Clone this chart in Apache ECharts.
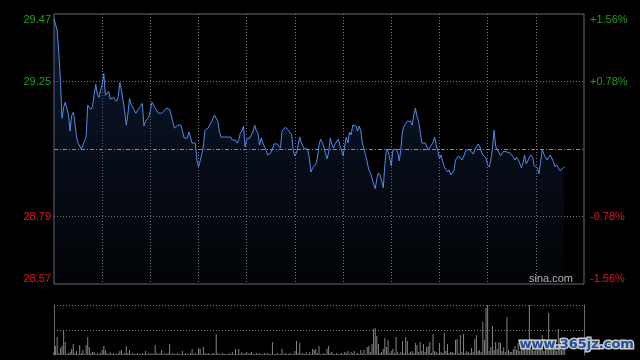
<!DOCTYPE html>
<html><head><meta charset="utf-8">
<script src="https://cdn.jsdelivr.net/npm/echarts@6/dist/echarts.min.js"></script>
<style>html,body{margin:0;padding:0;background:#000}#c{width:640px;height:360px}</style>
</head><body><div id="c"></div>
<script>
const prevClose = 29.02;
const pctMax = 1.56;
const pctStep = 0.78;
const prices = [
29.457,29.457,29.417,29.343,29.250,29.123,29.160,29.177,29.177,29.137,
29.080,29.133,29.143,29.110,29.060,29.040,29.040,29.020,29.017,29.047,
29.060,29.167,29.163,29.153,29.163,29.203,29.237,29.203,29.193,29.217,
29.237,29.273,29.200,29.197,29.213,29.187,29.187,29.193,29.193,29.180,
29.197,29.243,29.217,29.220,29.147,29.100,29.137,29.190,29.170,29.173,
29.150,29.140,29.150,29.153,29.163,29.173,29.097,29.113,29.120,29.127,
29.150,29.177,29.173,29.157,29.153,29.140,29.140,29.140,29.140,29.150,
29.157,29.157,29.153,29.133,29.110,29.090,29.093,29.100,29.100,29.100,
29.080,29.057,29.060,29.057,29.077,29.080,29.040,29.040,29.040,28.983,
28.960,28.980,29.003,29.030,29.083,29.083,29.090,29.100,29.110,29.123,
29.133,29.137,29.113,29.077,29.060,29.060,29.060,29.060,29.060,29.060,
29.060,29.050,29.047,29.050,29.040,29.050,29.073,29.080,29.097,29.027,
29.053,29.057,29.057,29.060,29.080,29.100,29.080,29.073,29.033,29.057,
29.040,29.040,29.017,29.000,28.997,29.007,29.020,29.037,29.037,29.037,
29.033,29.023,29.080,29.080,29.093,29.097,29.083,29.077,29.067,29.013,
28.997,29.007,29.033,29.060,29.040,29.037,29.020,29.020,29.020,28.987,
28.943,28.957,28.960,28.970,28.990,29.033,29.053,29.043,29.027,29.007,
28.987,29.010,29.057,29.037,29.023,29.037,29.043,29.053,29.033,29.017,
28.997,29.030,29.060,29.040,29.077,29.067,29.100,29.100,29.097,29.080,
29.097,29.083,29.040,29.020,29.000,28.977,28.950,28.940,28.937,28.903,
28.887,28.920,28.940,28.933,28.913,28.890,28.967,29.020,29.013,28.990,
28.963,29.017,29.017,29.020,29.010,28.980,29.023,29.080,29.097,29.103,
29.113,29.107,29.113,29.100,29.133,29.157,29.130,29.113,29.080,29.040,
29.040,29.040,29.030,29.017,29.020,29.033,29.043,29.060,29.033,29.013,
28.987,29.000,28.977,28.960,28.957,28.943,28.950,28.933,28.937,28.947,
28.983,28.983,28.997,28.993,28.983,28.993,29.010,29.017,29.017,29.017,
29.010,29.003,29.017,29.023,29.037,29.030,29.013,29.000,29.000,28.990,
28.967,28.960,28.983,29.023,29.083,29.030,29.017,29.010,28.997,29.000,
29.013,29.017,29.010,29.013,29.007,29.010,28.993,28.983,28.993,28.987,
28.973,28.957,28.973,29.000,28.970,28.980,28.993,29.000,28.993,28.963,
28.960,28.957,28.937,28.977,29.020,29.003,29.000,28.983,28.993,29.000,
28.997,28.977,28.960,28.967,28.957,28.947,28.943,28.957,28.960
];
const volumes = [
3,9,18,2,7,9,25,13,1,2,
3,6,11,2,4,1,10,2,5,1,
10,18,8,2,3,3,1,2,1,2,
5,9,5,2,1,3,1,2,1,1,
2,4,5,1,2,9,2,5,1,2,
1,1,2,1,1,2,1,4,1,2,
1,2,1,10,2,1,2,5,1,2,
1,2,11,1,2,1,1,2,1,1,
4,1,2,1,1,2,6,1,2,1,
7,6,1,8,2,1,2,1,1,2,
1,21,2,1,1,2,1,1,1,2,
1,3,1,6,1,6,1,3,1,2,
3,1,2,3,1,1,2,1,2,1,
1,2,1,2,1,1,13,1,1,2,
1,1,6,1,2,1,1,2,1,1,
4,14,2,12,1,2,1,3,1,3,
1,6,5,6,2,9,1,1,2,1,
6,9,2,3,1,1,2,1,1,2,
1,3,2,4,1,3,2,4,1,2,
1,5,2,5,1,8,9,3,11,26,
27,19,11,2,3,6,17,8,15,2,
4,6,2,18,3,1,3,14,2,18,
14,2,3,4,2,12,10,3,13,4,
11,3,8,9,13,2,21,4,3,2,
12,3,2,22,4,11,2,3,3,2,
15,16,2,20,3,21,2,4,3,2,
7,3,16,20,4,5,3,33,15,47,
50,4,8,29,5,13,6,13,12,4,
8,3,38,5,3,3,6,9,5,12,
4,8,6,10,5,7,50,6,9,4,
8,5,11,6,20,4,9,5,42,7,
5,10,6,4,26,8,5,9,6
];
// minute labels of the session (09:30-12:00, 13:01-16:00)
const times = [];
for (let i = 0; i <= 330; i++) {
  const m = i <= 150 ? 570 + i : 780 + (i - 150);
  times.push(String(Math.floor(m / 60)).padStart(2, '0') + ':' + String(m % 60).padStart(2, '0'));
}
const pct = prices.map(p => (p / prevClose - 1) * 100);
const green = '#1f9f1f', red = '#e01818';
const gridGray = '#7a7a7a';
const sgnColor = v => { const n = parseFloat(v); return n > 1e-9 ? green : red; };

const chart = echarts.init(document.getElementById('c'), null, {renderer: 'canvas'});
chart.setOption({
  animation: false,
  backgroundColor: '#000',
  grid: [
    {left: 54, right: 56, top: 14, height: 270, show: true, borderColor: '#6a6a6a', borderWidth: 1, backgroundColor: 'transparent'},
    {left: 54, right: 56, top: 305, height: 50}
  ],
  xAxis: [
    {type: 'category', gridIndex: 0, data: times, boundaryGap: false,
     axisLine: {show: false}, axisTick: {show: false}, axisLabel: {show: false},
     splitLine: {show: true, interval: (i) => i > 0 && i < 330 && i % 30 === 0,
       lineStyle: {color: gridGray, type: [1, 2], width: 1}}},
    {type: 'category', gridIndex: 1, data: times, boundaryGap: false,
     axisLine: {show: false}, axisTick: {show: false}, axisLabel: {show: false}, splitLine: {show: false}}
  ],
  yAxis: [
    {type: 'value', gridIndex: 0, min: -pctMax, max: pctMax, interval: pctStep, position: 'left',
     axisLine: {show: false}, axisTick: {show: false},
     axisLabel: {fontSize: 11, fontFamily: '"Liberation Sans", Arial, sans-serif', margin: 3,
       showMinLabel: true, showMaxLabel: true,
       verticalAlignMinLabel: 'bottom', verticalAlignMaxLabel: 'top',
       formatter: v => Math.abs(v) < 1e-9 ? '' : (prevClose * (1 + v / 100)).toFixed(2),
       color: sgnColor},
     splitLine: {show: true, lineStyle: {color: ['rgba(0,0,0,0)', gridGray, 'rgba(0,0,0,0)', gridGray, 'rgba(0,0,0,0)'], type: [1, 2], width: 1}}},
    {type: 'value', gridIndex: 0, min: -pctMax, max: pctMax, interval: pctStep, position: 'right',
     axisLine: {show: false}, axisTick: {show: false}, splitLine: {show: false},
     axisLabel: {fontSize: 11, fontFamily: '"Liberation Sans", Arial, sans-serif', margin: 6,
       showMinLabel: true, showMaxLabel: true,
       verticalAlignMinLabel: 'bottom', verticalAlignMaxLabel: 'top',
       formatter: v => Math.abs(v) < 1e-9 ? '' : (v > 0 ? '+' : '') + v.toFixed(2) + '%',
       color: sgnColor}},
    {type: 'value', gridIndex: 1, min: 0, max: 50, interval: 25, position: 'left',
     axisLine: {show: true, lineStyle: {color: '#6a6a6a', width: 1}}, axisTick: {show: false}, axisLabel: {show: false},
     splitLine: {show: true, showMinLine: false, lineStyle: {color: gridGray, type: [1, 2], width: 1}}},
    {type: 'value', gridIndex: 1, min: 0, max: 50, interval: 25, position: 'right',
     axisLine: {show: true, lineStyle: {color: '#6a6a6a', width: 1}}, axisTick: {show: false}, axisLabel: {show: false},
     splitLine: {show: false}}
  ],
  series: [
    {type: 'line', xAxisIndex: 0, yAxisIndex: 0, data: pct, showSymbol: false, symbol: 'none',
     lineStyle: {color: '#4f8ae8', width: 1},
     areaStyle: {origin: 'start', color: new echarts.graphic.LinearGradient(0, 0, 0, 1, [
       {offset: 0, color: 'rgba(40,75,140,0.50)'},
       {offset: 0.5, color: 'rgba(30,60,115,0.32)'},
       {offset: 1, color: 'rgba(25,45,85,0.10)'}])},
     markLine: {silent: true, symbol: 'none', label: {show: false},
       lineStyle: {color: '#8c8c8c', type: [4, 2, 1, 2], width: 1},
       data: [{yAxis: 0}]}},
    {type: 'bar', xAxisIndex: 1, yAxisIndex: 2, data: volumes, barWidth: 1,
     itemStyle: {color: '#858585'}}
  ],
  graphic: [
    {type: 'text', right: 67, top: 273, z: 100,
     style: {text: 'sina.com', fill: '#b4b4b4', font: '11px "Liberation Sans", Arial, sans-serif'}},
    {type: 'text', left: 518, top: 337, z: 100,
     style: {text: 'www.365jz.com', fill: '#1d4f9c', stroke: '#c8c8c8', lineWidth: 3, strokeFirst: true,
       font: 'bold 13px "DejaVu Sans", sans-serif'}}
  ]
});
</script>
</body></html>
